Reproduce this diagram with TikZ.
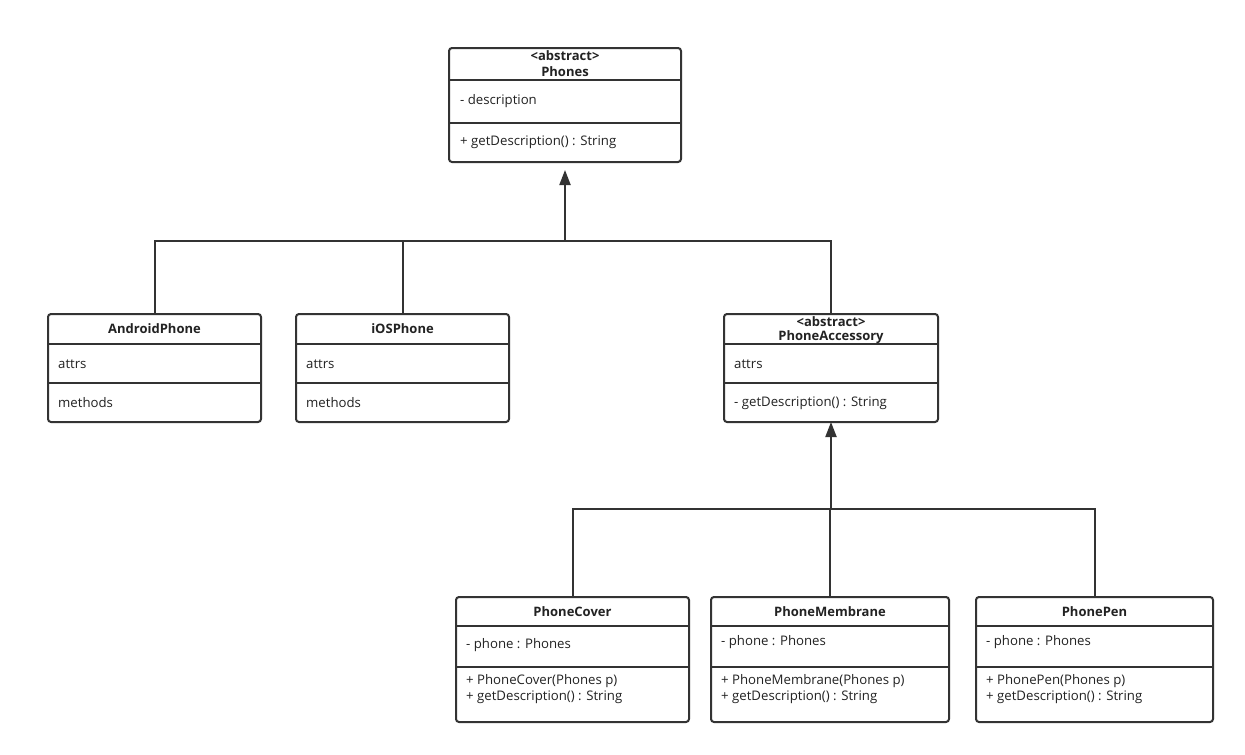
\documentclass[tikz,border=0pt]{standalone}
\usepackage{fontspec}
\setmainfont{Open Sans}
\usetikzlibrary{arrows.meta}
\definecolor{lc}{HTML}{333333}
\definecolor{tc}{HTML}{222222}
\begin{document}
\begin{tikzpicture}[x=1pt,y=-1pt]
\useasboundingbox[fill=white] (0,0) rectangle (1245,755);
\tikzset{
  cls/.style={draw=lc, line width=2pt, rounded corners=3pt, anchor=north west, inner sep=0pt, outer sep=0pt},
  sep/.style={draw=lc, line width=2pt},
  txt/.style={anchor=west, inner sep=0pt, text=tc, font=\fontsize{13.2}{15}\selectfont},
  ttl/.style={anchor=center, inner sep=0pt, text=tc, font=\fontsize{13}{15}\selectfont\bfseries},
  conn/.style={draw=lc, line width=2pt},
  inh/.style={conn, -{Triangle[width=11pt,length=15pt]}}
}
% Phones
\node[cls, minimum width=232pt, minimum height=114pt] (phones) at (449,48) {};
\draw[sep] (phones.west |- 0,80) -- (phones.east |- 0,80);
\draw[sep] (phones.west |- 0,123) -- (phones.east |- 0,123);
\node[ttl] (phonesS) at (565,55.5) {<abstract>};
\node[ttl] (phonesT) at (565,71.5) {Phones};
\node[txt] (phonesA) at (460,101) {- description};
\node[txt] (phonesM) at (460,142) {+ getDescription() : String};

% AndroidPhone
\node[cls, minimum width=213pt, minimum height=108pt] (android) at (48,314) {};
\draw[sep] (android.west |- 0,344) -- (android.east |- 0,344);
\draw[sep] (android.west |- 0,383) -- (android.east |- 0,383);
\node[ttl] (androidT) at (154.5,329) {AndroidPhone};
\node[txt] (androidA) at (58,364) {attrs};
\node[txt] (androidM) at (58,403) {methods};

% iOSPhone
\node[cls, minimum width=213pt, minimum height=108pt] (ios) at (296,314) {};
\draw[sep] (ios.west |- 0,344) -- (ios.east |- 0,344);
\draw[sep] (ios.west |- 0,383) -- (ios.east |- 0,383);
\node[ttl] (iosT) at (402.5,329) {iOSPhone};
\node[txt] (iosA) at (306,364) {attrs};
\node[txt] (iosM) at (306,403) {methods};

% PhoneAccessory
\node[cls, minimum width=214pt, minimum height=108pt] (acc) at (724,314) {};
\draw[sep] (acc.west |- 0,344) -- (acc.east |- 0,344);
\draw[sep] (acc.west |- 0,383) -- (acc.east |- 0,383);
\node[ttl] (accS) at (831,321.5) {<abstract>};
\node[ttl] (accT) at (831,337) {PhoneAccessory};
\node[txt] (accA) at (734,364) {attrs};
\node[txt] (accM) at (734,403) {- getDescription() : String};

% PhoneCover
\node[cls, minimum width=233pt, minimum height=125pt] (cover) at (456,597) {};
\draw[sep] (cover.west |- 0,626) -- (cover.east |- 0,626);
\draw[sep] (cover.west |- 0,667) -- (cover.east |- 0,667);
\node[ttl] (coverT) at (572.5,612) {PhoneCover};
\node[txt] (coverA) at (466,645) {- phone : Phones};
\node[txt] (coverM1) at (466,681) {+ PhoneCover(Phones p)};
\node[txt] (coverM2) at (466,697) {+ getDescription() : String};

% PhoneMembrane
\node[cls, minimum width=238pt, minimum height=125pt] (memb) at (711,597) {};
\draw[sep] (memb.west |- 0,626) -- (memb.east |- 0,626);
\draw[sep] (memb.west |- 0,667) -- (memb.east |- 0,667);
\node[ttl] (membT) at (830,612) {PhoneMembrane};
\node[txt] (membA) at (721,642) {- phone : Phones};
\node[txt] (membM1) at (721,681) {+ PhoneMembrane(Phones p)};
\node[txt] (membM2) at (721,697) {+ getDescription() : String};

% PhonePen
\node[cls, minimum width=237pt, minimum height=125pt] (pen) at (976,597) {};
\draw[sep] (pen.west |- 0,626) -- (pen.east |- 0,626);
\draw[sep] (pen.west |- 0,667) -- (pen.east |- 0,667);
\node[ttl] (penT) at (1094.5,612) {PhonePen};
\node[txt] (penA) at (986,642) {- phone : Phones};
\node[txt] (penM1) at (986,681) {+ PhonePen(Phones p)};
\node[txt] (penM2) at (986,697) {+ getDescription() : String};

% connectors: first level
\coordinate (j1) at (565,241);
\draw[conn] (android.north) -- (android.north |- j1) -- (acc.north |- j1) -- (acc.north);
\draw[conn] (ios.north) -- (ios.north |- j1);
\draw[inh, shorten >=8pt] (j1) -- (phones.south);

% connectors: second level
\coordinate (j2) at (831,509);
\draw[conn] (cover.north) -- (cover.north |- j2) -- (pen.north |- j2) -- (pen.north);
\draw[conn] (memb.north) -- (memb.north |- j2);
\draw[inh] (j2) -- (acc.south);
\end{tikzpicture}
\end{document}
